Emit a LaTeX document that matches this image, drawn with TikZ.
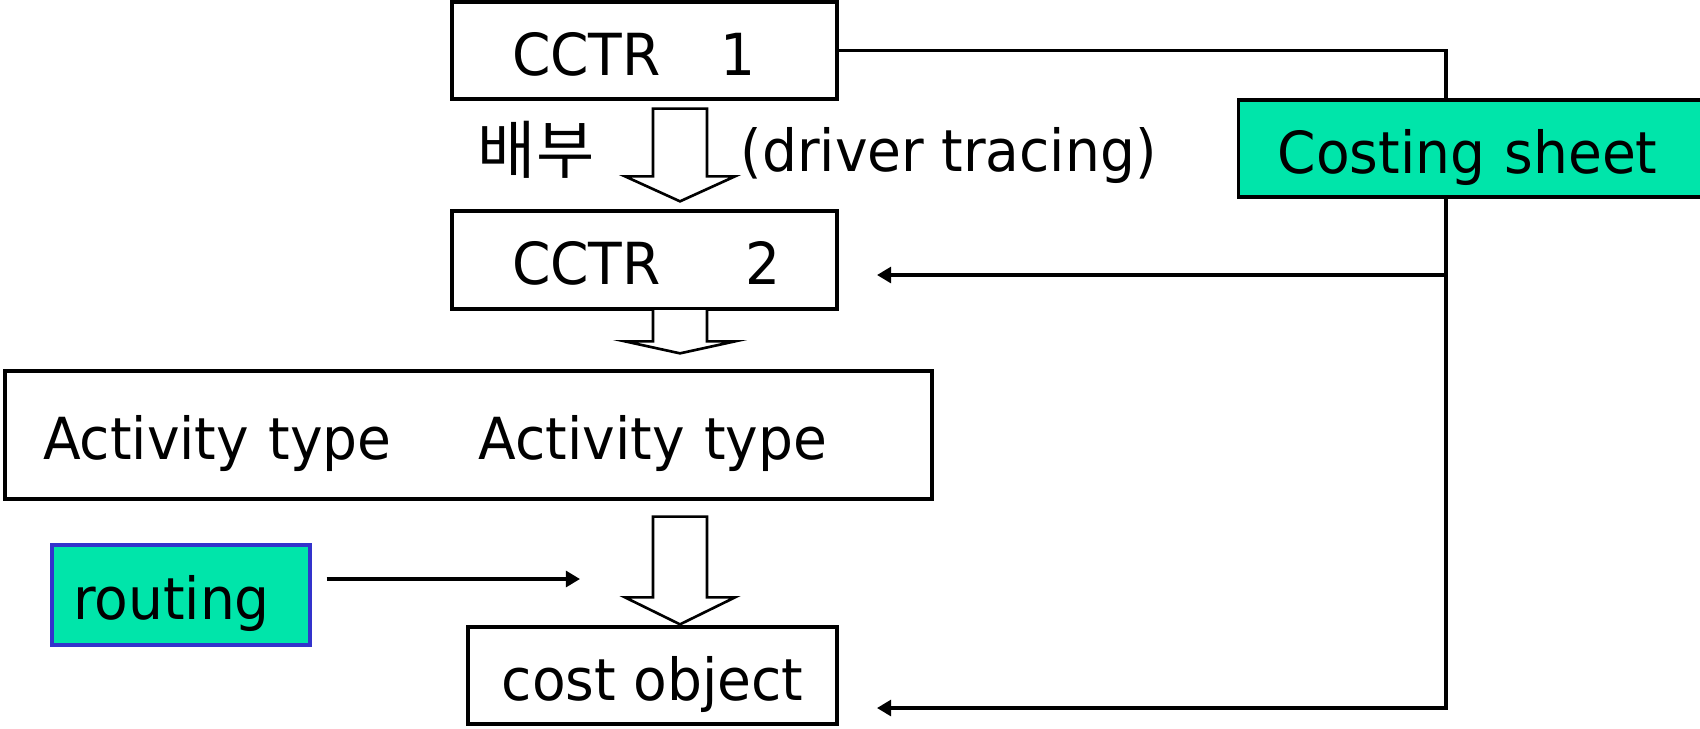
\documentclass[tikz,border=0pt]{standalone}
\usepackage{fontspec}
\setmainfont{DejaVu Sans}[FakeStretch=0.95]
\newfontfamily\krfont{Noto Sans CJK KR}
\usetikzlibrary{calc,arrows.meta}
\definecolor{sheetgreen}{RGB}{0,229,170}
\definecolor{routeblue}{RGB}{51,51,204}
\tikzset{ box/.style = { rectangle % step box
        , draw
        , line width = 1.9pt
        , inner sep = 0pt
        , text height = 0.99cm
        , text depth = 0cm
        , font = \fontsize{33}{40}\selectfont
        }
        , tag/.style = { box % green note
        , fill = sheetgreen
        }
        , word/.style = { rectangle % free text
        , inner sep = 0pt
        , font = \fontsize{33}{40}\selectfont
        }
        }

\begin{document}
\begin{tikzpicture}[x=0.02cm, y=-0.02cm, line width=1.9pt,
        wire_style/.style={draw=black, line width=1.9pt},
        arrow_style/.style={wire_style, -{Triangle[length=8pt,width=9pt]}},
        hollow/.style={draw=black, line width=1.5pt, fill=white, to path={let \p1=(\tikztostart), \p2=(\tikztotarget) in (\x1-0.54cm,\y1) -- (\x1+0.54cm,\y1) -- (\x1+0.54cm,\y2+#1) -- (\x1+1.1cm,\y2+#1) -- (\x2,\y2) -- (\x1-1.1cm,\y2+#1) -- (\x1-0.54cm,\y2+#1) -- cycle}}]
        \useasboundingbox (0,0) rectangle (1700,728);

        \node [box, inner xsep=0.6cm, text width=6.5cm, align=left, minimum height=1.94cm] (c1) at (644.5,50.5) {\hspace*{0.6cm}CCTR\hspace{1.2cm}1};
        \node [box, inner xsep=0.6cm, text width=6.5cm, align=left, minimum height=1.96cm] (c2) at (644.5,260) {\hspace*{0.6cm}CCTR\hspace{1.7cm}2};
        \node [box, inner xsep=0.76cm, text width=17.02cm, align=left, minimum height=2.56cm] (act) at (468.5,435) {Activity type\hspace{1.75cm}Activity type};
        \node [box, minimum width=7.38cm, minimum height=1.94cm] (cost) at (652.5,675.5) {cost object};
        \node [tag, draw=routeblue, inner xsep=0.42cm, text width=4.32cm, align=left, minimum height=2cm] (routing) at (181,595) {routing};

        \node [word, font=\krfont\fontsize{36}{42}\selectfont] (alloc) at (536,150) {배부};
        \node [word, anchor=west] (driver) at (739,155) {(driver tracing)};

        \draw [hollow=0.5cm] ([shift={(35.5,8)}]c1.south) to ([shift={(35.5,-8)}]c2.north);
        \draw [hollow=0.24cm] ([shift={(35.5,-2)}]c2.south) to ([shift={(211.5,-16)}]act.north);
        \draw [hollow=0.54cm] ([shift={(211.5,16)}]act.south) to ([shift={(27.5,-1)}]cost.north);

        \coordinate (tap) at (1446,275);
        \coordinate (low) at (1446,708);
        \coordinate (in2) at (877,275);
        \coordinate (in3) at (877,708);
        \coordinate (rin) at (580,579);
        \draw [arrow_style] (c1.east) -| (low) -- (in3);
        \draw [arrow_style] (tap) -- (in2);
        \draw [arrow_style] ([shift={(15,-16)}]routing.east) -- (rin);

        \node [tag, anchor=west, inner xsep=0.78cm, text width=7.94cm, align=left, minimum height=1.94cm] (sheet) at (1237,148.5) {Costing sheet};
\end{tikzpicture}
\end{document}
